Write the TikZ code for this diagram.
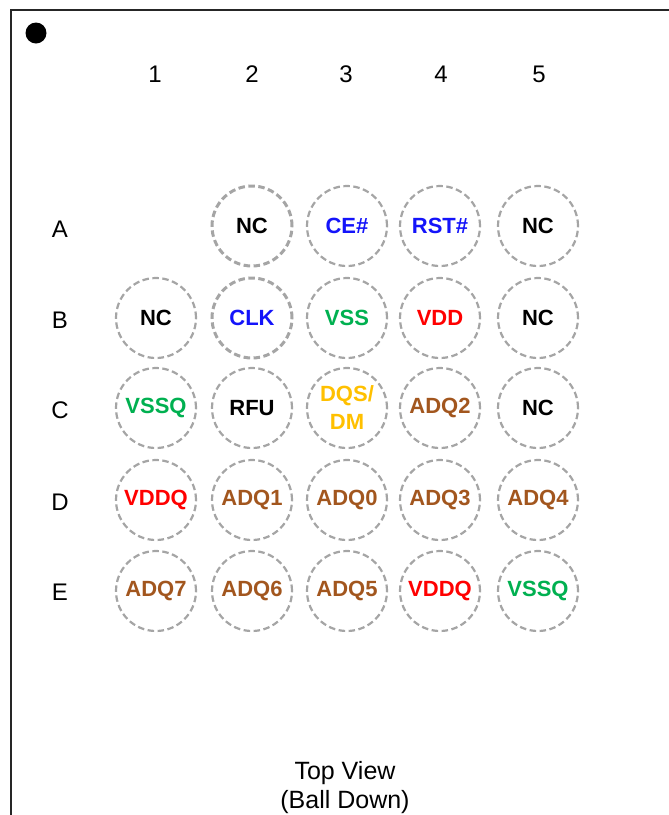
\documentclass[tikz,border=0pt]{standalone}
\usepackage{fontspec}
\setmainfont{Liberation Sans}
\definecolor{pinblue}{RGB}{20,20,250}
\definecolor{pingreen}{RGB}{0,176,80}
\definecolor{pinred}{RGB}{255,0,0}
\definecolor{pingold}{RGB}{255,192,0}
\definecolor{pinbrown}{RGB}{162,86,30}
\definecolor{ballgray}{RGB}{165,165,165}
\tikzset{
  ball/.style={circle, draw=ballgray, line width=2.2pt, dash pattern=on 6.5pt off 3.5pt,
    minimum size=80pt, inner sep=0pt, font=\fontsize{22}{28}\selectfont\bfseries, align=center},
  ballthick/.style={ball, line width=3pt},
  axislabel/.style={font=\fontsize{24}{28}\selectfont, inner sep=0pt}
}
\begin{document}
\begin{tikzpicture}[x=1pt, y=-1pt]
            \useasboundingbox (0,0) rectangle (669,815);
            \clip (0,0) rectangle (669,815);

            % 外框与一号球标记
            \draw[line width=1.6pt, black!85] (11,830) -- (11,10) -- (690,10);
            \fill (36,33) circle (10.5);

            % 列号
            \node[axislabel] (n1) at (155,74) {1};
            \node[axislabel] (n2) at (252,74) {2};
            \node[axislabel] (n3) at (346,74) {3};
            \node[axislabel] (n4) at (441,74) {4};
            \node[axislabel] (n5) at (539,74) {5};

            % 行号
            \node[axislabel] (ra) at (60,229) {A};
            \node[axislabel] (rb) at (60,320) {B};
            \node[axislabel] (rc) at (60,410) {C};
            \node[axislabel] (rd) at (60,502) {D};
            \node[axislabel] (re) at (60,592) {E};

            % A 行
            \node[ballthick] (a2) at (252,226) {NC};
            \node[ball, text=pinblue] (a3) at (347,226) {CE\#};
            \node[ball, text=pinblue] (a4) at (440,226) {RST\#};
            \node[ball] (a5) at (538,226) {NC};

            % B 行
            \node[ball] (b1) at (156,318) {NC};
            \node[ballthick, text=pinblue] (b2) at (252,318) {CLK};
            \node[ball, text=pingreen] (b3) at (347,318) {VSS};
            \node[ball, text=pinred] (b4) at (440,318) {VDD};
            \node[ball] (b5) at (538,318) {NC};

            % C 行
            \node[ball, text=pingreen] (c1) at (156,408) {VSSQ};
            \node[ball] (c2) at (252,408) {RFU};
            \node[ball, text=pingold] (c3) at (347,408) {DQS/\\DM};
            \node[ball, text=pinbrown] (c4) at (440,408) {ADQ2};
            \node[ball] (c5) at (538,408) {NC};

            % D 行
            \node[ball, text=pinred] (d1) at (156,500) {VDDQ};
            \node[ball, text=pinbrown] (d2) at (252,500) {ADQ1};
            \node[ball, text=pinbrown] (d3) at (347,500) {ADQ0};
            \node[ball, text=pinbrown] (d4) at (440,500) {ADQ3};
            \node[ball, text=pinbrown] (d5) at (538,500) {ADQ4};

            % E 行
            \node[ball, text=pinbrown] (e1) at (156,591) {ADQ7};
            \node[ball, text=pinbrown] (e2) at (252,591) {ADQ6};
            \node[ball, text=pinbrown] (e3) at (347,591) {ADQ5};
            \node[ball, text=pinred] (e4) at (440,591) {VDDQ};
            \node[ball, text=pingreen] (e5) at (538,591) {VSSQ};

            % 标题
            \node[font=\fontsize{25}{29}\selectfont, anchor=base, inner sep=0pt] (view) at (345,779) {Top View};
            \node[font=\fontsize{25}{29}\selectfont, anchor=base, inner sep=0pt] (down) at (345,808) {(Ball Down)};

        \end{tikzpicture}
\end{document}
